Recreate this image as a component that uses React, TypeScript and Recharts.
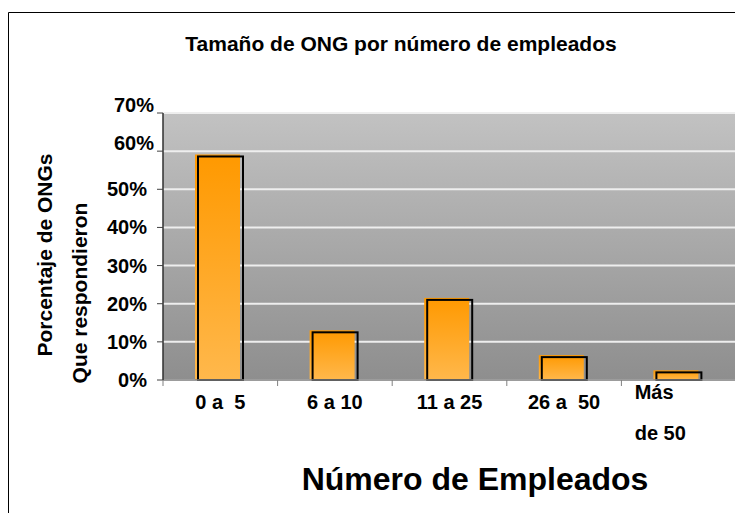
import React from "react";
import { Bar, BarChart, CartesianGrid, XAxis, YAxis } from "recharts";

const categories = ["0 a  5", "6 a 10", "11 a 25", "26 a  50", "Más\nde 50"];
const percentValues = [58.6, 12.5, 21, 6, 2];
const yTicks = [0, 10, 20, 30, 40, 50, 60, 70];

const data = categories.map((name, i) => ({ name, value: percentValues[i] }));

const W = 743;
const H = 521;
const PLOT_LEFT = 163;
const PLOT_RIGHT = 736;
const BAND = (PLOT_RIGHT - PLOT_LEFT) / categories.length;
const FONT = "'Liberation Sans', Arial, sans-serif";

function BarShape(props: any) {
  const { x, y, width, height } = props;
  if (!height || height <= 0) return null;
  return (
    <g>
      <rect x={x - 3} y={y - 2} width={width} height={height + 2} fill="url(#barFill)" />
      <rect x={x} y={y} width={width} height={height} fill="none" stroke="#000" strokeWidth={2} />
    </g>
  );
}

function XTick(props: any) {
  const { x, y, payload, index } = props;
  const lines = String(payload.value).split("\n");
  return (
    <g>
      <line x1={x + BAND / 2} x2={x + BAND / 2} y1={y} y2={y + 6} stroke="#808080" strokeWidth={1} />
      {index === 0 && (
        <line x1={x - BAND / 2} x2={x - BAND / 2} y1={y} y2={y + 6} stroke="#808080" strokeWidth={1} />
      )}
      {lines.length === 1 ? (
        <text
          x={x}
          y={y + 29}
          textAnchor="middle"
          fontSize={20}
          fontWeight="bold"
          fontFamily={FONT}
          fill="#000"
          style={{ whiteSpace: "pre" }}
        >
          {lines[0]}
        </text>
      ) : (
        <text x={x - 44} y={y + 19} textAnchor="start" fontSize={20} fontWeight="bold" fontFamily={FONT} fill="#000">
          <tspan x={x - 44}>{lines[0]}</tspan>
          <tspan x={x - 44} dy={41}>
            {lines[1]}
          </tspan>
        </text>
      )}
    </g>
  );
}

function YTick(props: any) {
  const { x, y, payload } = props;
  const shifted = payload.value >= 60;
  return (
    <text
      x={x + (shifted ? 7 : 0)}
      y={y + 7 - (shifted ? 8 : 0)}
      textAnchor="end"
      fontSize={20}
      fontWeight="bold"
      fontFamily={FONT}
      fill="#000"
    >
      {`${payload.value}%`}
    </text>
  );
}

export default function App() {
  return (
    <div style={{ position: "relative", width: W, height: H, margin: -8, background: "#fff", overflow: "hidden" }}>
      <BarChart
        width={W}
        height={H}
        data={data}
        margin={{ top: 113, right: W - PLOT_RIGHT, left: PLOT_LEFT - 100, bottom: H - 380 - 70 }}
        barSize={45}
      >
        <defs>
          <linearGradient id="plotBg" x1="0" y1="0" x2="0" y2="1">
            <stop offset="0%" stopColor="#c2c2c2" />
            <stop offset="100%" stopColor="#8e8e8e" />
          </linearGradient>
          <linearGradient id="barFill" x1="0" y1="0" x2="0" y2="1">
            <stop offset="0%" stopColor="#ff9900" />
            <stop offset="100%" stopColor="#ffb84c" />
          </linearGradient>
        </defs>
        <CartesianGrid vertical={false} fill="url(#plotBg)" stroke="#eeeeee" strokeWidth={2} />
        <XAxis
          dataKey="name"
          height={70}
          interval={0}
          tickSize={0}
          tickMargin={0}
          tickLine={false}
          axisLine={{ stroke: "#808080", strokeWidth: 1.5 }}
          tick={<XTick />}
        />
        <YAxis
          width={100}
          domain={[0, 70]}
          ticks={yTicks}
          interval={0}
          tickSize={6}
          tickMargin={10}
          tickLine={{ stroke: "#404040" }}
          axisLine={{ stroke: "#303030", strokeWidth: 1.5 }}
          tick={<YTick />}
        />
        <Bar dataKey="value" shape={<BarShape />} isAnimationActive={false} />
      </BarChart>
      <svg
        width={W}
        height={H}
        style={{ position: "absolute", left: 0, top: 0, pointerEvents: "none" }}
      >
        <line x1={8.5} y1={12.5} x2={W} y2={12.5} stroke="#000" strokeWidth={1} />
        <line x1={8.5} y1={12.5} x2={8.5} y2={H} stroke="#000" strokeWidth={1} />
        <text x={401} y={51} textAnchor="middle" fontSize={21} fontWeight="bold" fontFamily={FONT} fill="#000">
          Tamaño de ONG por número de empleados
        </text>
        <text x={475} y={490} textAnchor="middle" fontSize={32} fontWeight="bold" fontFamily={FONT} fill="#000">
          Número de Empleados
        </text>
        <text
          x={52}
          y={255}
          transform="rotate(-90 52 255)"
          textAnchor="middle"
          fontSize={21}
          fontWeight="bold"
          fontFamily={FONT}
          fill="#000"
        >
          Porcentaje de ONGs
        </text>
        <text
          x={87}
          y={293}
          transform="rotate(-90 87 293)"
          textAnchor="middle"
          fontSize={21}
          fontWeight="bold"
          fontFamily={FONT}
          fill="#000"
        >
          Que respondieron
        </text>
      </svg>
    </div>
  );
}
